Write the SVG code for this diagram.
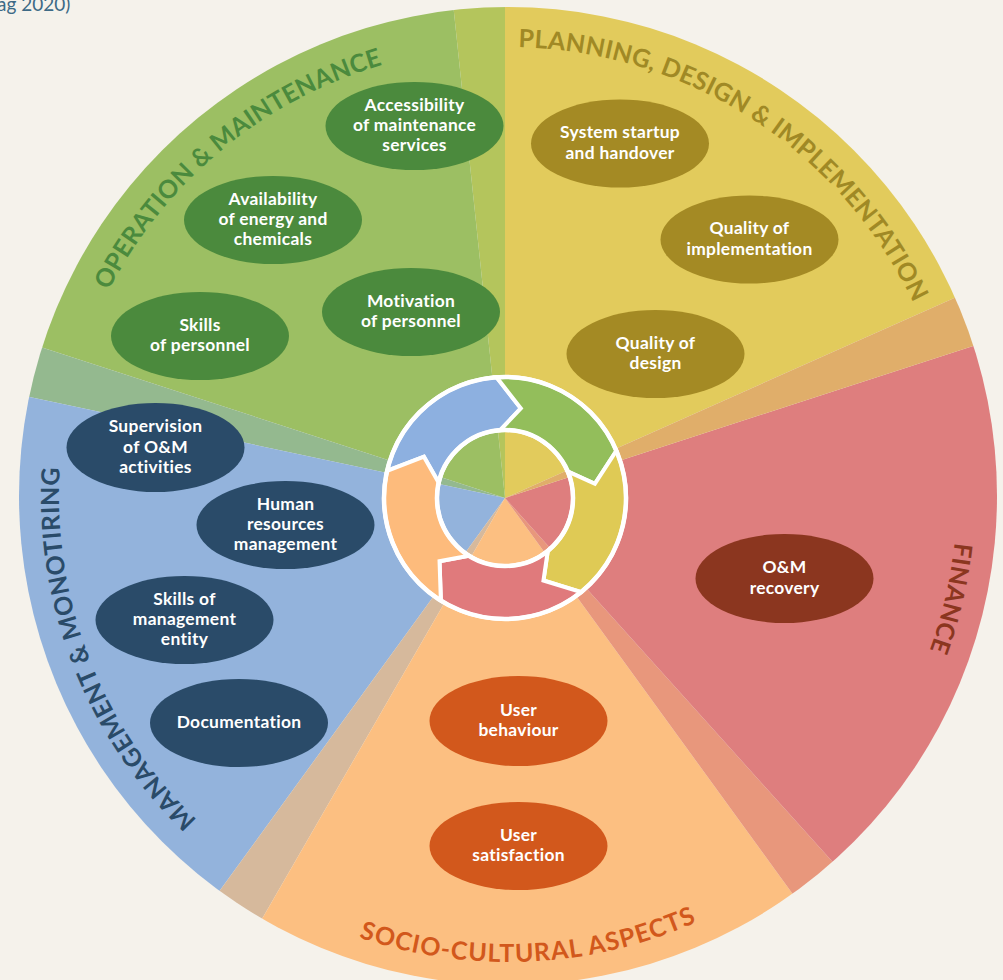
<svg xmlns="http://www.w3.org/2000/svg" width="1003" height="980" viewBox="0 0 1003 980">
<defs>
<clipPath id="disc"><circle cx="508" cy="496" r="489"/></clipPath>
<path id="pOM" d="M117.21,717.10 A449,449 0 0 1 799.60,154.58"/>
<path id="pPD" d="M179.09,190.36 A449,449 0 0 1 921.61,670.71"/>
<path id="pFI" d="M683.44,82.70 A449,449 0 0 1 484.50,944.38"/>
<path id="pMM" d="M595.98,936.29 A449,449 0 0 1 274.74,112.35"/>
<path id="pSC" d="M53.22,597.65 A466,466 0 0 0 970.12,556.02"/>
</defs>
<style>
.lbl{font-family:Lato,"Open Sans","Liberation Sans",sans-serif;font-weight:700;font-size:25px}
.nt{font-family:Lato,"Open Sans","Liberation Sans",sans-serif;font-weight:700;font-size:17.4px;letter-spacing:0.3px;fill:#fff;text-anchor:middle}
.arr{stroke:#fff;stroke-width:4;stroke-linejoin:miter}
.ring{fill:none;stroke:#fff;stroke-width:4.5}
.eg{fill:#4b8a3d}.eo{fill:#a48a24}.em{fill:#8b361f}.en{fill:#2a4b69}.er{fill:#d2581c}
</style>
<rect width="1003" height="980" fill="#f5f2eb"/>
<text x="-3" y="11" font-family="Lato,'Liberation Sans',sans-serif" font-size="19" fill="#3d6a86">ag 2020)</text>
<g id="sectors" clip-path="url(#disc)">
<path fill="#e2cb5c" d="M505,498 L1235.8,172.6 L505,-302 Z"/>
<path fill="#b4c55c" d="M505,498 L505,-302 L421.4,-297.6 Z"/>
<path fill="#9cbf63" d="M505,498 L421.4,-297.6 L-255.8,250.8 Z"/>
<path fill="#94b98f" d="M505,498 L-255.8,250.8 L-277.5,331.7 Z"/>
<path fill="#93b3dc" d="M505,498 L-277.5,331.7 L34.8,1145.2 Z"/>
<path fill="#d6b99c" d="M505,498 L34.8,1145.2 L105,1190.8 Z"/>
<path fill="#fcbf81" d="M505,498 L105,1190.8 L975.2,1145.2 Z"/>
<path fill="#e8977c" d="M505,498 L975.2,1145.2 L1040.3,1092.5 Z"/>
<path fill="#de7e7e" d="M505,498 L1040.3,1092.5 L1265.8,250.8 Z"/>
<path fill="#e0ae6a" d="M505,498 L1265.8,250.8 L1235.8,172.6 Z"/>
</g>
<g id="labels">
<text class="lbl" fill="#4b8a3d"><textPath href="#pOM" startOffset="50%" text-anchor="middle" textLength="365" lengthAdjust="spacing">OPERATION &amp; MAINTENANCE</textPath></text>
<text class="lbl" fill="#a08925"><textPath href="#pPD" startOffset="50%" text-anchor="middle" textLength="495" lengthAdjust="spacing">PLANNING, DESIGN &amp; IMPLEMENTATION</textPath></text>
<text class="lbl" fill="#8b361f"><textPath href="#pFI" startOffset="50%" text-anchor="middle" textLength="111" lengthAdjust="spacing">FINANCE</textPath></text>
<text class="lbl" fill="#2a4b69"><textPath href="#pMM" startOffset="50%" text-anchor="middle" textLength="390" lengthAdjust="spacing">MANAGEMENT &amp; MONOTIRING</textPath></text>
<text class="lbl" fill="#d2581c"><textPath href="#pSC" startOffset="50%" text-anchor="middle" textLength="346" lengthAdjust="spacing">SOCIO-CULTURAL ASPECTS</textPath></text>
</g>
<g id="cycle-arrows">
<path class="arr" fill="#8db0e0" d="M387.10,470.78 A121,121 0 0 1 496.56,377.30 L520.80,408.38 L500.26,430.17 A68,68 0 0 0 438.74,482.70 L423.92,456.69 Z"/>
<path class="arr" fill="#93be5b" d="M496.56,377.30 A121,121 0 0 1 616.38,450.72 L594.88,483.76 L567.59,471.43 A68,68 0 0 0 500.26,430.17 L520.80,408.38 Z"/>
<path class="arr" fill="#dfca55" d="M616.38,450.72 A121,121 0 0 1 581.15,592.04 L543.46,580.47 L547.79,550.85 A68,68 0 0 0 567.59,471.43 L594.88,483.76 Z"/>
<path class="arr" fill="#e07a7c" d="M581.15,592.04 A121,121 0 0 1 440.88,600.61 L439.54,561.21 L468.97,555.67 A68,68 0 0 0 547.79,550.85 L543.46,580.47 Z"/>
<path class="arr" fill="#fdbb7c" d="M440.88,600.61 A121,121 0 0 1 387.10,470.78 L423.92,456.69 L438.74,482.70 A68,68 0 0 0 468.97,555.67 L439.54,561.21 Z"/>
<circle class="ring" cx="505" cy="498" r="121"/>
<circle class="ring" cx="505" cy="498" r="68"/>
</g>
<g id="n-accessibility"><ellipse class="eg" cx="414.5" cy="126" rx="89" ry="44"/><text class="nt"><tspan x="414.5" y="110.8">Accessibility</tspan><tspan x="414.5" y="131">of maintenance</tspan><tspan x="414.5" y="151.2">services</tspan></text></g>
<g id="n-availability"><ellipse class="eg" cx="273" cy="220" rx="89" ry="44"/><text class="nt"><tspan x="273" y="204.8">Availability</tspan><tspan x="273" y="225">of energy and</tspan><tspan x="273" y="245.2">chemicals</tspan></text></g>
<g id="n-motivation"><ellipse class="eg" cx="411" cy="312" rx="89" ry="44"/><text class="nt"><tspan x="411" y="306.9">Motivation</tspan><tspan x="411" y="327.1">of personnel</tspan></text></g>
<g id="n-skills-personnel"><ellipse class="eg" cx="200" cy="336" rx="89" ry="44"/><text class="nt"><tspan x="200" y="330.9">Skills</tspan><tspan x="200" y="351.1">of personnel</tspan></text></g>
<g id="n-startup"><ellipse class="eo" cx="620" cy="143.5" rx="89" ry="44"/><text class="nt"><tspan x="620" y="138.4">System startup</tspan><tspan x="620" y="158.6">and handover</tspan></text></g>
<g id="n-quality-impl"><ellipse class="eo" cx="749.5" cy="239.5" rx="89" ry="44"/><text class="nt"><tspan x="749.5" y="234.4">Quality of</tspan><tspan x="749.5" y="254.6">implementation</tspan></text></g>
<g id="n-quality-design"><ellipse class="eo" cx="655.5" cy="354" rx="89" ry="44"/><text class="nt"><tspan x="655.5" y="348.9">Quality of</tspan><tspan x="655.5" y="369.1">design</tspan></text></g>
<g id="n-om-recovery"><ellipse class="em" cx="784.5" cy="578.5" rx="89" ry="44.5"/><text class="nt"><tspan x="784.5" y="573.4">O&amp;M</tspan><tspan x="784.5" y="593.6">recovery</tspan></text></g>
<g id="n-supervision"><ellipse class="en" cx="155.5" cy="447.5" rx="89" ry="44.5"/><text class="nt"><tspan x="155.5" y="432.3">Supervision</tspan><tspan x="155.5" y="452.5">of O&amp;M</tspan><tspan x="155.5" y="472.7">activities</tspan></text></g>
<g id="n-human-resources"><ellipse class="en" cx="285.5" cy="525" rx="89" ry="44"/><text class="nt"><tspan x="285.5" y="509.8">Human</tspan><tspan x="285.5" y="530">resources</tspan><tspan x="285.5" y="550.2">management</tspan></text></g>
<g id="n-skills-mgmt"><ellipse class="en" cx="184.5" cy="620" rx="89" ry="44"/><text class="nt"><tspan x="184.5" y="604.8">Skills of</tspan><tspan x="184.5" y="625">management</tspan><tspan x="184.5" y="645.2">entity</tspan></text></g>
<g id="n-documentation"><ellipse class="en" cx="239" cy="723" rx="89" ry="44"/><text class="nt"><tspan x="239" y="728">Documentation</tspan></text></g>
<g id="n-user-behaviour"><ellipse class="er" cx="518.5" cy="721" rx="89" ry="45"/><text class="nt"><tspan x="518.5" y="715.9">User</tspan><tspan x="518.5" y="736.1">behaviour</tspan></text></g>
<g id="n-user-satisfaction"><ellipse class="er" cx="518.5" cy="846" rx="89" ry="44"/><text class="nt"><tspan x="518.5" y="840.9">User</tspan><tspan x="518.5" y="861.1">satisfaction</tspan></text></g>
</svg>
